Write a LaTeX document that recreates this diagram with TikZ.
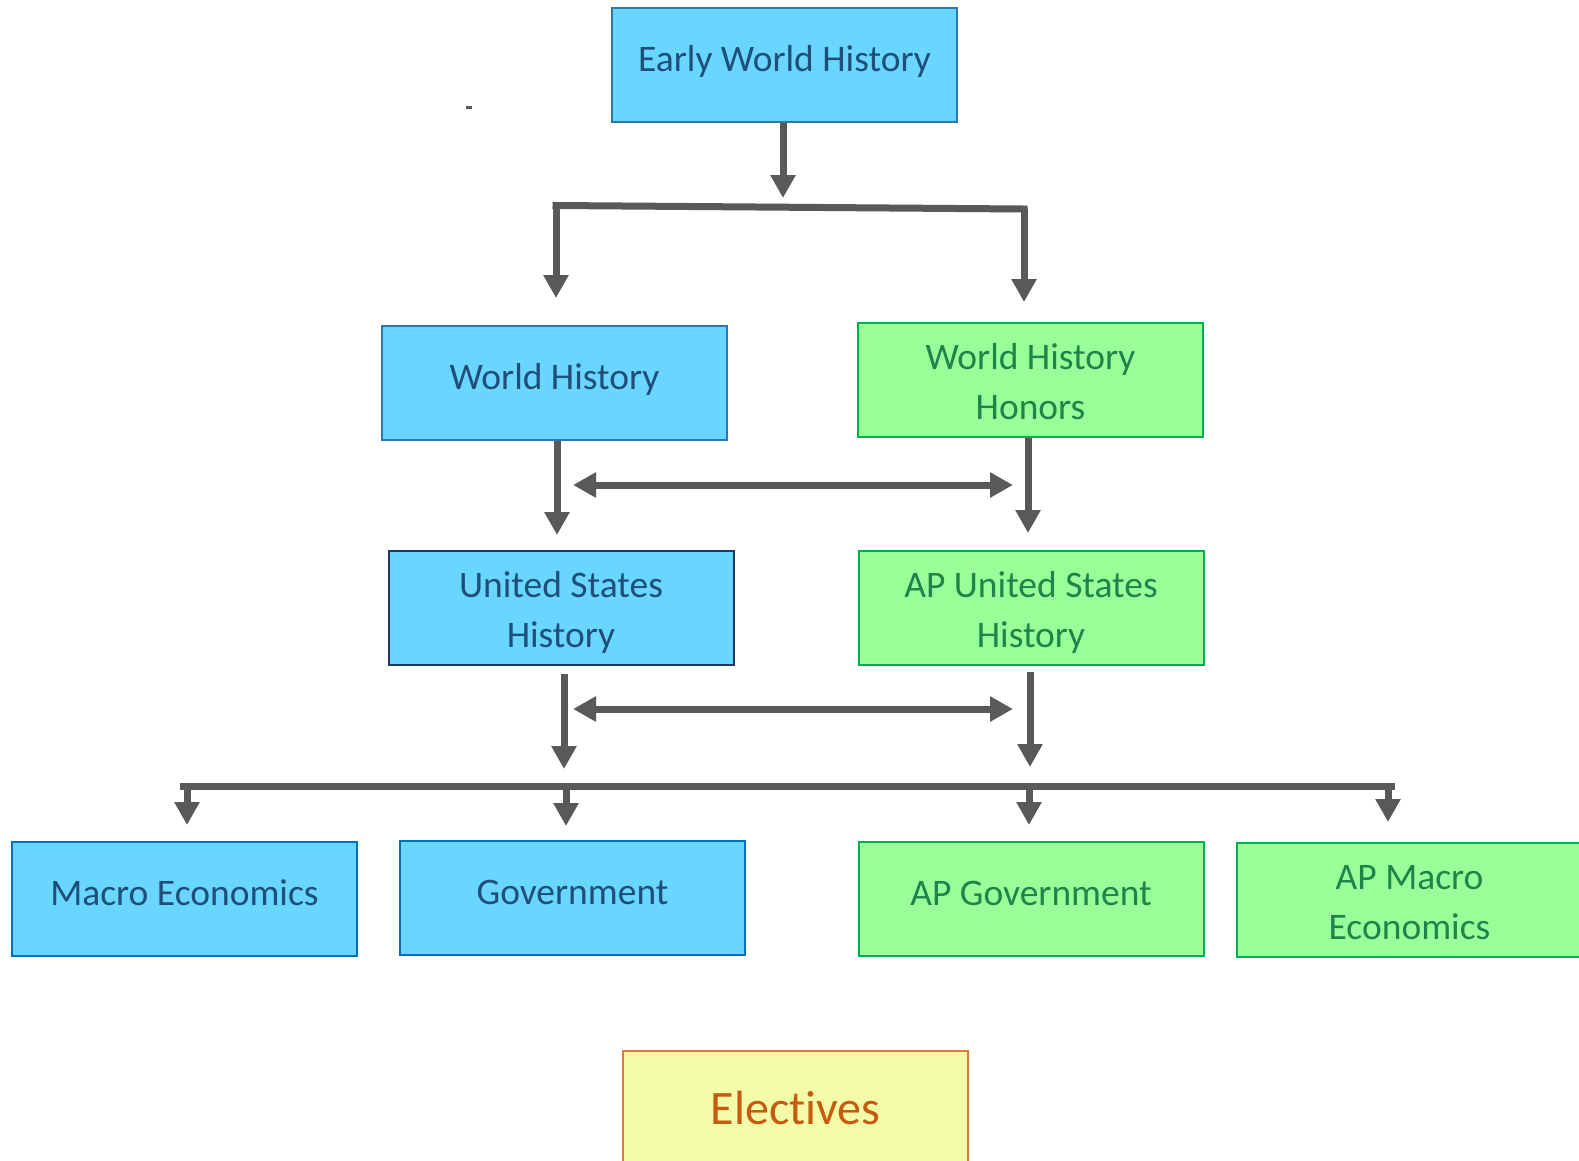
\documentclass[tikz,border=0pt]{standalone}
\usepackage{fontspec}
\setmainfont{Carlito}[Ligatures=NoCommon]
\usetikzlibrary{arrows.meta,calc}
\definecolor{bfill}{HTML}{69D6FF}
\definecolor{bline}{HTML}{2E75B6}
\definecolor{bline2}{HTML}{0070C0}
\definecolor{bnavy}{HTML}{1F3864}
\definecolor{btext}{HTML}{1F4E79}
\definecolor{gfill}{HTML}{99FF99}
\definecolor{gline}{HTML}{00B050}
\definecolor{gtext}{HTML}{1E8449}
\definecolor{yfill}{HTML}{F4FBA8}
\definecolor{yline}{HTML}{E07A30}
\definecolor{ytext}{HTML}{C55A11}
\definecolor{arrcol}{HTML}{595959}
\newcommand\oneline[1]{\raisebox{-6.3pt}{#1}}
\newcommand\twoline[2]{\raisebox{-39.5pt}{\begin{tabular}[b]{@{}c@{}}#1\\#2\end{tabular}}}
\tikzset{
  box/.style={rectangle, minimum width=345pt, minimum height=114pt, inner sep=0pt,
    text height=0pt, text depth=0pt,
    line width=2pt, font=\fontsize{37.5}{50}\selectfont},
  bluebox/.style={box, fill=bfill, draw=bline, text=btext},
  greenbox/.style={box, fill=gfill, draw=gline, text=gtext},
  yellowbox/.style={box, fill=yfill, draw=yline, line width=1.5pt, text=ytext, font=\fontsize{48}{56}\selectfont},
  conn/.style={draw=arrcol, line width=7pt},
  arr/.style={conn, -{Triangle[width=24pt,length=23pt]}},
  darr/.style={conn, {Triangle[width=24pt,length=23pt]}-{Triangle[width=24pt,length=23pt]}},
}
\begin{document}
\begin{tikzpicture}[x=1pt,y=-1pt]
\useasboundingbox (0,0) rectangle (1579,1160);
\begin{scope}
\clip (0,0) rectangle (1579,1160);
% boxes
\node[bluebox] (ewh) at (784.5,65) {\oneline{Early World History}};
\node[bluebox] (wh) at (554.5,383) {\oneline{World History}};
\node[greenbox] (whh) at (1030.5,380) {\twoline{World History}{Honors}};
\node[bluebox, draw=bnavy] (ush) at (561,608) {\twoline{United States}{History}};
\node[greenbox] (apush) at (1031,607.5) {\twoline{AP United States}{History}};
\node[bluebox, draw=bline2] (macro) at (184.5,899) {\oneline{Macro Economics}};
\node[bluebox, draw=bline2] (gov) at (572.5,898) {\oneline{Government}};
\node[greenbox] (apgov) at (1031,899) {\oneline{AP Government}};
\node[greenbox] (apmacro) at (1409.5,900) {\twoline{AP Macro}{Economics}};
\node[yellowbox] (elect) at (795.5,1108) {\raisebox{-16pt}{Electives}};
\end{scope}
% stray mark
\fill[arrcol] (466,106) rectangle (472,109);
% coordinates
\coordinate (j1) at (783,198);
\coordinate (bl) at (556,205.5);
\coordinate (br) at (1024,209);
\coordinate (t1) at (556,298);
\coordinate (t2) at (1024,302);
\coordinate (a1) at (557,535);
\coordinate (a2) at (1028,533);
\coordinate (d1l) at (573,485);
\coordinate (d1r) at (1013,485);
\coordinate (s3) at (564,674);
\coordinate (a3) at (564,769);
\coordinate (s4) at (1030,672);
\coordinate (a4) at (1030,767);
\coordinate (d2l) at (573,709);
\coordinate (d2r) at (1013,709);
\coordinate (busl) at (187,786);
\coordinate (busr) at (1388,786);
\coordinate (g1) at (566,786);
\coordinate (g2) at (1029,786);
\coordinate (m1) at (187,825);
\coordinate (m2) at (566,826);
\coordinate (m3) at (1029,825);
\coordinate (m4) at (1388,822);
% connectors
\draw[arr] (ewh.south -| j1) -- (j1);
\draw[conn, line cap=rect] (bl) -- (br);
\draw[arr] (bl) -- (t1);
\draw[arr] (br) -- (t2);
\draw[arr] (wh.south -| a1) -- (a1);
\draw[arr] (whh.south -| a2) -- (a2);
\draw[darr] (d1l) -- (d1r);
\draw[arr] (s3) -- (a3);
\draw[arr] (s4) -- (a4);
\draw[darr] (d2l) -- (d2r);
\draw[conn, line cap=rect] ([xshift=-3.5pt]busl) -- ([xshift=3.5pt]busr);
\draw[arr] (busl) -- (m1);
\draw[arr] (g1) -- (m2);
\draw[arr] (g2) -- (m3);
\draw[arr] (busr) -- (m4);
\end{tikzpicture}
\end{document}
